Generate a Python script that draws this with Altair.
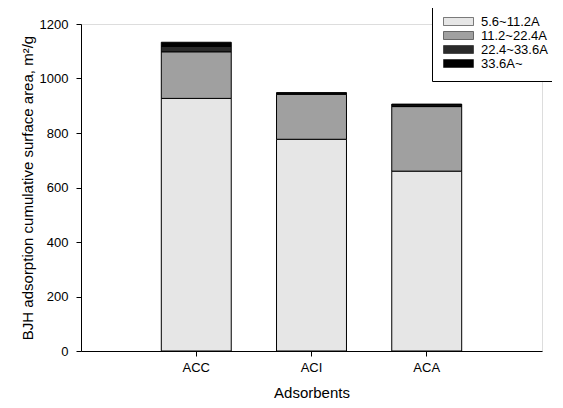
import altair as alt
import pandas as pd

adsorbents = ["ACC", "ACI", "ACA"]
ranges = ["5.6~11.2A", "11.2~22.4A", "22.4~33.6A", "33.6A~"]
v_5_6 = [927, 777, 660]
v_11_2 = [171, 165, 237]
v_22_4 = [20, 4, 6]
v_33_6 = [15, 2, 3]

colors = ["#e6e6e6", "#a0a0a0", "#2a2a2a", "#000000"]

rows = []
for i, a in enumerate(adsorbents):
    for k, (r, vals) in enumerate(zip(ranges, [v_5_6, v_11_2, v_22_4, v_33_6])):
        rows.append({"Adsorbent": a, "Range": r, "Area": vals[i], "ord": k})
df = pd.DataFrame(rows)

font = "Arial"

chart = alt.Chart(df).mark_bar(stroke="black", strokeWidth=1).encode(
    x=alt.X("Adsorbent:N", sort=adsorbents, title="Adsorbents",
            scale=alt.Scale(paddingInner=0.393, paddingOuter=0.697),
            axis=alt.Axis(labelAngle=0, labelFontSize=13, titleFontSize=15,
                          labelPadding=5, titlePadding=11, tickSize=5,
                          domainColor="black", tickColor="black",
                          labelColor="black", titleColor="black",
                          titleFontWeight="normal", labelFont=font, titleFont=font)),
    y=alt.Y("Area:Q", title="BJH adsorption cumulative surface area, m²/g",
            stack="zero",
            scale=alt.Scale(domain=[0, 1200], nice=False),
            axis=alt.Axis(values=[0, 200, 400, 600, 800, 1000, 1200], grid=False,
                          format="d",
                          labelFontSize=13, titleFontSize=15, tickSize=5,
                          labelPadding=8, titlePadding=4,
                          domainColor="black", tickColor="black",
                          labelColor="black", titleColor="black",
                          titleFontWeight="normal", labelFont=font, titleFont=font)),
    color=alt.Color("Range:N", sort=ranges,
                    scale=alt.Scale(domain=ranges, range=colors),
                    legend=alt.Legend(title=None, orient="none", legendX=351, legendY=-19,
                                      strokeColor="black", fillColor="white",
                                      padding=10, rowPadding=0,
                                      symbolType="M-1,-0.8H5V0.8H-1Z",
                                      symbolSize=100, symbolStrokeColor="black",
                                      symbolStrokeWidth=0.5,
                                      labelFontSize=13, labelFont=font, labelColor="black",
                                      labelOffset=26)),
    order=alt.Order("ord:Q", sort="ascending"),
).properties(
    width=461, height=327,
    autosize=alt.AutoSizeParams(type="none"),
    padding={"left": 73, "top": 16, "right": 10, "bottom": 57},
).configure_view(
    stroke="black", strokeWidth=1
).configure(background="white")

chart.save("out.html", embed_options={"renderer": "svg", "actions": False})
